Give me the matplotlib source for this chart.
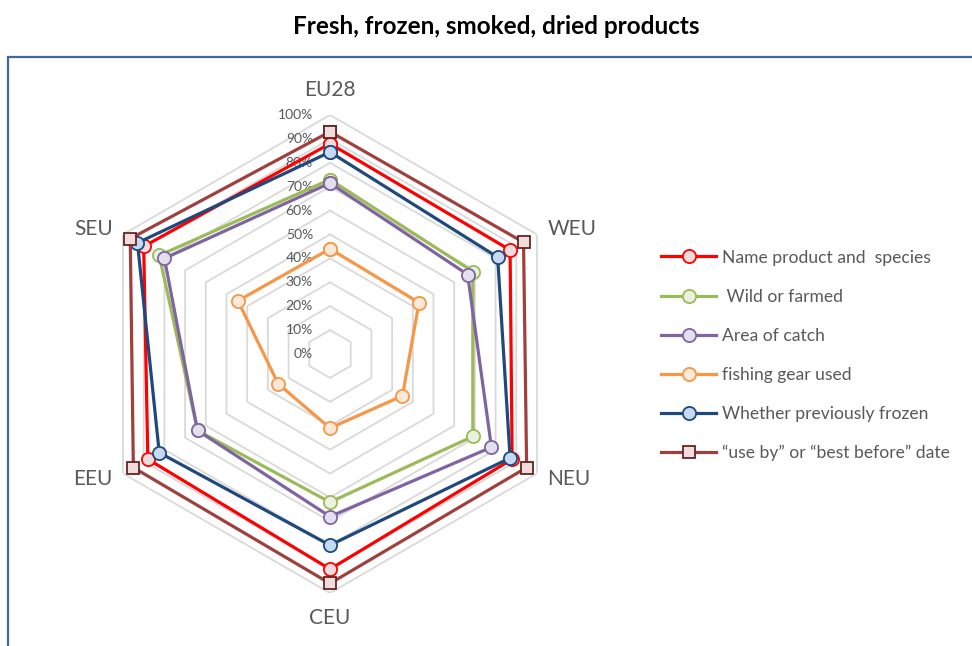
import numpy as np
import matplotlib
matplotlib.use("Agg")
import matplotlib.pyplot as plt
from matplotlib.patches import Rectangle
from matplotlib.transforms import ScaledTranslation

plt.rcParams['font.family'] = ['Lato', 'DejaVu Sans']

# --- Data (share of products, %) ---
regions = ["EU28", "WEU", "NEU", "CEU", "EEU", "SEU"]
name_species = [88, 87, 88, 90, 88, 90]
wild_farmed = [73, 69, 69, 62, 64, 82.5]
area_catch = [71.5, 66.5, 78, 68, 64, 80]
fishing_gear = [44, 43, 35, 31, 25, 44.5]
prev_frozen = [84.5, 81, 87, 80, 82.5, 93]
use_by_date = [93, 93.5, 95, 96, 95, 96.5]

series_labels = ["Name product and  species", " Wild or farmed", "Area of catch",
                 "fishing gear used", "Whether previously frozen",
                 "\u201cuse by\u201d or \u201cbest before\u201d date"]
radial_ticks = [0, 10, 20, 30, 40, 50, 60, 70, 80, 90, 100]

# line colour, marker face, marker edge, marker shape
styles = [
    ("#FF0000", "#F2DCDB", "#FF0000", "o"),
    ("#9BBB59", "#EBF1DE", "#9BBB59", "o"),
    ("#8064A2", "#E4DFEC", "#8064A2", "o"),
    ("#F79646", "#FDE9D9", "#F79646", "o"),
    ("#1F497D", "#C5D9F1", "#1F497D", "o"),
    ("#A0403D", "#F2DCDB", "#632523", "s"),
]
TEXT_GREY = "#595959"

fig = plt.figure(figsize=(9.72, 6.46), dpi=100)
ax = fig.add_axes([0.0936, 0.082, 0.4918, 0.74], projection="polar")
ax.set_theta_offset(np.pi / 2)
ax.set_theta_direction(-1)
ax.set_ylim(0, 1)
ax.set_xticks([])
ax.set_yticks([])
ax.grid(False)
ax.spines["polar"].set_visible(False)
ax.patch.set_visible(False)

n = len(regions)
theta = np.arange(n) * 2 * np.pi / n
theta_closed = np.append(theta, theta[0])

# hexagonal gridlines
for t in radial_ticks[1:]:
    ax.plot(theta_closed, np.full(n + 1, t / 100), color="#D9D9D9", lw=1.3, zorder=1)

# radial tick labels left of the EU28 spoke
shift = ScaledTranslation(-17 / 100, 0, fig.dpi_scale_trans)
for t in radial_ticks:
    ax.text(0, t / 100, f"{t}%", transform=ax.transData + shift,
            ha="right", va="center", fontsize=10, color=TEXT_GREY, zorder=2)

# region labels
for th, reg in zip(theta, regions):
    deg = np.degrees(th)
    if deg == 0 or deg == 180:
        ax.text(th, 1.105, reg, ha="center", va="center", fontsize=15, color=TEXT_GREY)
    elif deg < 180:
        ax.text(th, 1.05, reg, ha="left", va="center", fontsize=15, color=TEXT_GREY)
    else:
        ax.text(th, 1.05, reg, ha="right", va="center", fontsize=15, color=TEXT_GREY)

all_series = [name_species, wild_farmed, area_catch, fishing_gear, prev_frozen, use_by_date]
handles = []
for vals, lab, (lc, fc, ec, mk) in zip(all_series, series_labels, styles):
    r = np.array(vals + [vals[0]]) / 100
    ln, = ax.plot(theta_closed, r, color=lc, lw=2.3, marker=mk,
                  markersize=9.5 if mk == "o" else 9, markerfacecolor=fc,
                  markeredgecolor=ec, markeredgewidth=1.3, label=lab,
                  clip_on=False, zorder=3)
    handles.append(ln)

leg = fig.legend(handles=handles, loc="upper left", bbox_to_anchor=(0.664, 0.638),
                 frameon=False, fontsize=12.6, handlelength=3.15, handletextpad=0.35,
                 labelspacing=1.32)
for txt in leg.get_texts():
    txt.set_color(TEXT_GREY)

fig.text(0.511, 0.959, "Fresh, frozen, smoked, dried products", ha="center",
         va="center", fontsize=17.5, fontweight="bold", color="black")

# outer chart border
fig.patches.append(Rectangle((8 / 972, -0.1), 1.2, 0.9118 + 0.1,
                             transform=fig.transFigure, fill=False,
                             edgecolor="#41679C", lw=1.6))

fig.savefig("out.png", dpi=100)
